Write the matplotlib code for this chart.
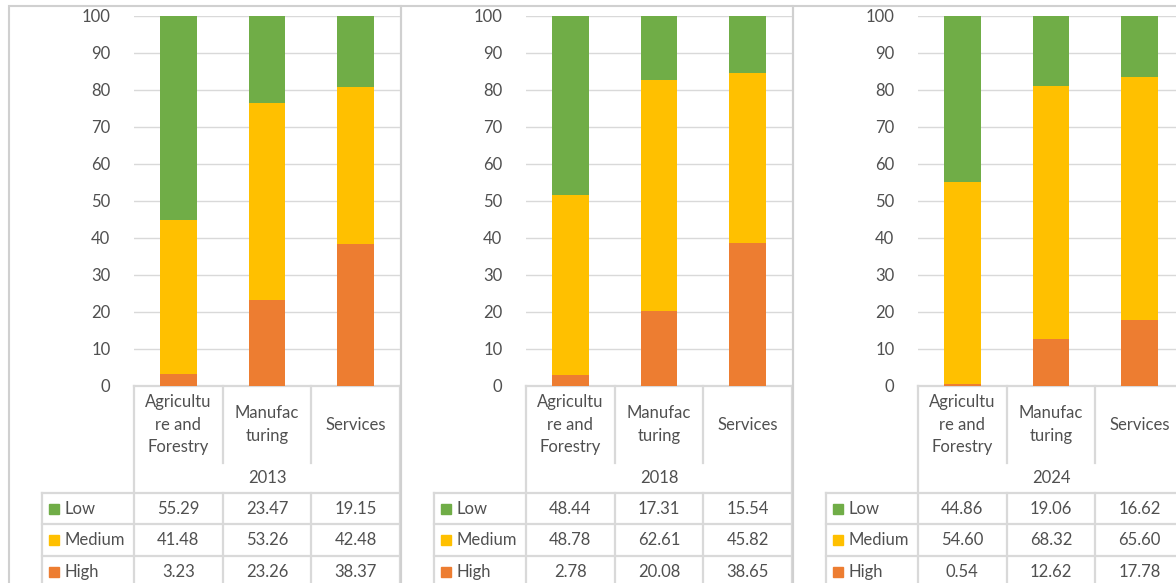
import numpy as np
import matplotlib
matplotlib.use('Agg')
import matplotlib.pyplot as plt

plt.rcParams['font.family'] = ['Lato', 'DejaVu Sans']

# data
years = ['2013', '2018', '2024']
sectors = ['Agricultu\nre and\nForestry', 'Manufac\nturing', 'Services']
levels = ['Low', 'Medium', 'High']
low = [[55.29, 23.47, 19.15], [48.44, 17.31, 15.54], [44.86, 19.06, 16.62]]
medium = [[41.48, 53.26, 42.48], [48.78, 62.61, 45.82], [54.60, 68.32, 65.60]]
high = [[3.23, 23.26, 38.37], [2.78, 20.08, 38.65], [0.54, 12.62, 17.78]]

c_low = '#70AD47'
c_med = '#FFC000'
c_high = '#ED7D31'
grid_c = '#D9D9D9'
txt_c = '#505050'

W, H = 1176, 583
fig = plt.figure(figsize=(W / 100, H / 100), dpi=100)

# overlay axes in pixel coords for table + borders
ov = fig.add_axes([0, 0, 1, 1])
ov.set_xlim(0, W)
ov.set_ylim(H, 0)
ov.axis('off')

fs = 12
y_top, y_zero = 16, 385.5
plot_w = 266
step = 392

for i, yr in enumerate(years):
    x0 = 134 + step * i
    ax = fig.add_axes([x0 / W, 1 - y_zero / H, plot_w / W, (y_zero - y_top) / H])
    xs = np.arange(3)
    hi = np.array(high[i])
    me = np.array(medium[i])
    lo = np.array(low[i])
    ax.bar(xs, hi, 0.41, color=c_high, zorder=3)
    ax.bar(xs, me, 0.41, bottom=hi, color=c_med, zorder=3)
    ax.bar(xs, lo, 0.41, bottom=hi + me, color=c_low, zorder=3)
    ax.set_xlim(-0.5, 2.5)
    ax.set_ylim(0, 100)
    ax.set_yticks(range(0, 101, 10))
    ax.set_xticks([])
    ax.tick_params(axis='y', length=0, pad=17, labelsize=fs, labelcolor=txt_c)
    ax.grid(axis='y', color=grid_c, lw=1, zorder=0)
    for s in ax.spines.values():
        s.set_visible(False)
    ax.patch.set_alpha(0)

    # panel border
    bx = 9 + step * i
    ov.plot([bx, bx, bx + step, bx + step, bx],
            [600, 6, 6, 600, 600], color='#D0D0D0', lw=1.5, solid_joinstyle='miter')

    # table
    cw = plot_w / 3
    leg_x = x0 - 92
    lc = dict(color=grid_c, lw=1.6)
    ov.plot([x0, x0 + plot_w], [y_zero, y_zero], **lc)
    ov.plot([x0, x0], [y_zero, H + 10], **lc)
    ov.plot([x0 + plot_w, x0 + plot_w], [y_zero, H + 10], **lc)
    for k in (1, 2):
        ov.plot([x0 + cw * k, x0 + cw * k], [y_zero, 463], **lc)
        ov.plot([x0 + cw * k, x0 + cw * k], [493, H + 10], **lc)
    rows_y = [493, 524, 556, 588]
    for ry in rows_y:
        ov.plot([leg_x, x0 + plot_w], [ry, ry], **lc)
    ov.plot([leg_x, leg_x], [493, H + 10], **lc)

    for k, s in enumerate(sectors):
        ov.text(x0 + cw * (k + 0.5), 424.5, s, ha='center', va='center',
                fontsize=fs, color=txt_c, linespacing=1.5)
    ov.text(x0 + plot_w / 2, 478, yr, ha='center', va='center', fontsize=fs, color=txt_c)

    vals = [low[i], medium[i], high[i]]
    cols = [c_low, c_med, c_high]
    for r, lev in enumerate(levels):
        cy = (rows_y[r] + rows_y[r + 1]) / 2
        ov.add_patch(plt.Rectangle((leg_x + 7, cy - 5), 10, 10, color=cols[r]))
        ov.text(leg_x + 22, cy, lev, ha='left', va='center', fontsize=fs, color=txt_c)
        for k in range(3):
            ov.text(x0 + cw * (k + 0.5), cy, '%.2f' % vals[r][k], ha='center',
                    va='center', fontsize=fs, color=txt_c)

fig.savefig('out.png', dpi=100)
